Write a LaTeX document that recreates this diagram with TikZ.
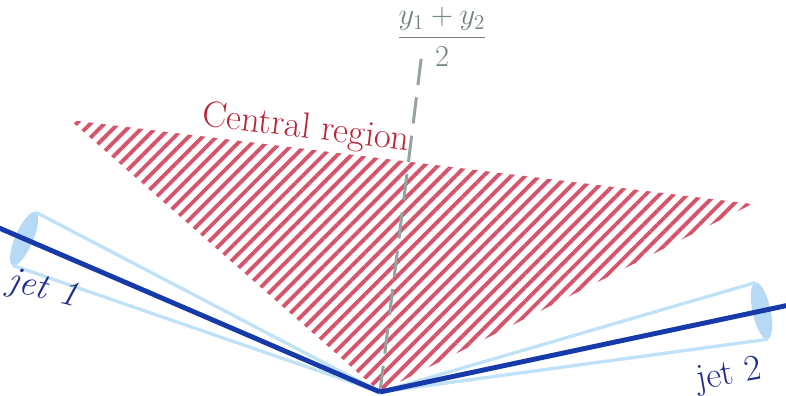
\documentclass[tikz,border=0pt]{standalone}
\usepackage{amsmath,amssymb}
\usepackage{tikz}
\usetikzlibrary{patterns.meta}

\definecolor{jetblue}{RGB}{22,58,170}
\definecolor{jettext}{RGB}{30,45,140}
\definecolor{conelight}{RGB}{192,226,248}
\definecolor{capfill}{RGB}{182,218,246}
\definecolor{hatchred}{RGB}{214,84,106}
\definecolor{regionred}{RGB}{185,38,58}
\definecolor{midgray}{RGB}{148,162,162}
\definecolor{midtext}{RGB}{115,128,128}

\begin{document}
\begin{tikzpicture}[x=0.02cm, y=0.02cm, every node/.style={font=\huge},
	jetaxis/.style={draw=jetblue, line width=2.8pt},
	cone/.style={draw=conelight, line width=1.9pt, line join=round},
	jetcap/.style={fill=capfill},
	hatch/.style={pattern={Lines[angle=45, distance=5.6pt, line width=2.2pt]}, pattern color=hatchred},
	midline/.style={draw=midgray, line width=1.7pt, dash pattern=on 15pt off 7pt}]
	\useasboundingbox (0,0) rectangle (786,395);
	\coordinate (apex) at (380,3);
	\coordinate (tl) at (70,275);
	\coordinate (tr) at (752,191);
	\coordinate (mtop) at (422,343);
	\fill[hatch] (tl) -- (tr) -- (apex) -- cycle;
	\node[text=regionred, rotate=-7] (central) at (306,266) {Central region};
	\foreach \j/\ang/\len/\far in {1/156.7/387.5/430, 2/12/390/430} {
		\begin{scope}[shift={(apex)}, rotate=\ang]
			\coordinate (c\j) at (\len,0);
			\coordinate (u\j) at (\len,29);
			\coordinate (d\j) at (\len,-29);
			\coordinate (tip\j) at (\far,0);
			\fill[jetcap] (c\j) ellipse [x radius=9, y radius=29];
			\draw[cone] (u\j) -- (apex) -- (d\j);
		\end{scope}
	}
	\draw[midline] (apex) -- (mtop);
	\node[text=midtext, font=\LARGE] (mid) at (442,358) {$\dfrac{y_1+y_2}{2}$};
	\draw[jetaxis] (apex) -- (tip1);
	\draw[jetaxis] (apex) -- (tip2);
	\node[text=jettext, rotate=-14] (jet1) at (43,105) {\textit{jet 1}};
	\node[text=jettext, rotate=10] (jet2) at (729,19) {jet 2};
\end{tikzpicture}
\end{document}
